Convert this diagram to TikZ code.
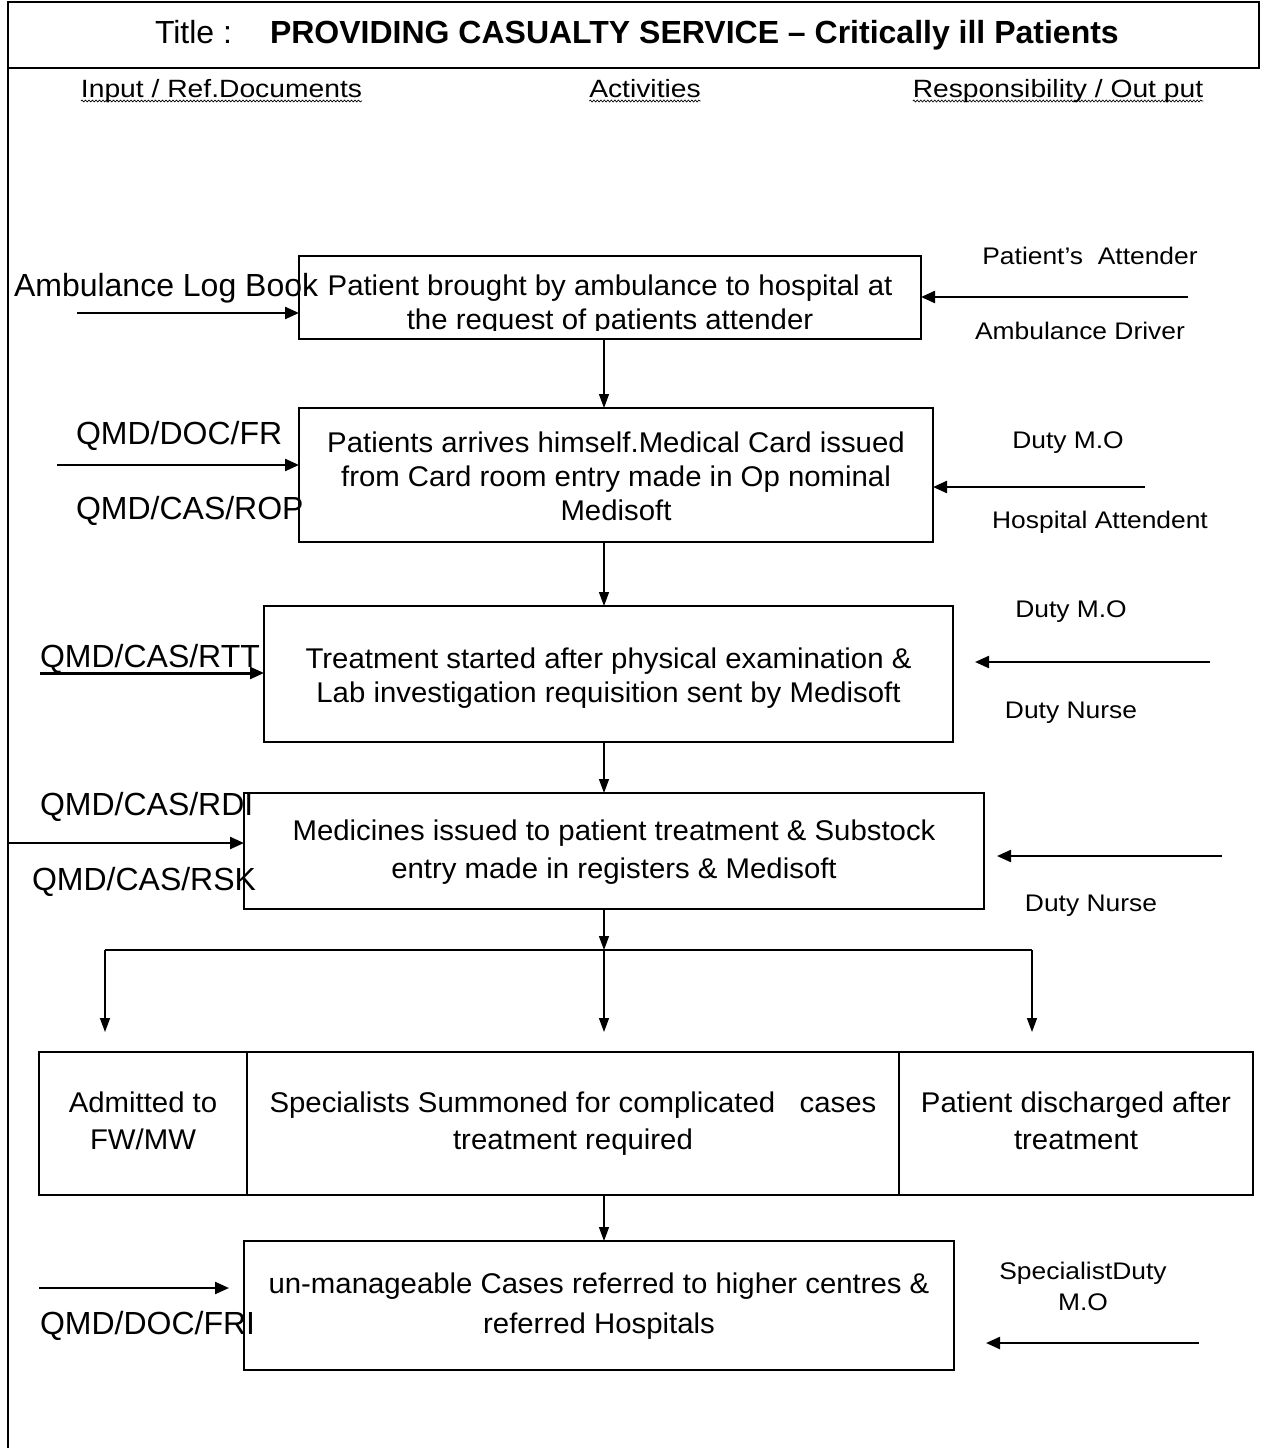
\documentclass[tikz,border=0pt]{standalone}
\usepackage{fontspec}
\setmainfont{Liberation Sans}
\newfontfamily\lblfont[FakeStretch=1.1]{Liberation Sans}
\newfontfamily\hdrfont[FakeStretch=1.13]{Liberation Sans}
\newfontfamily\boxfont[FakeStretch=1.03]{Liberation Sans}
\usetikzlibrary{arrows.meta,decorations.pathmorphing}

\begin{document}
\begin{tikzpicture}[x=1pt,y=-1pt,
  every node/.style={inner sep=0pt, outer sep=0pt},
  frame/.style={line width=1.5pt},
  box/.style={draw, line width=1.5pt, align=center},
  btext/.style={align=center, font=\boxfont\fontsize{28.5}{34}\selectfont},
  harr/.style={line width=2.3pt, -{Triangle[length=14pt,width=12pt]}},
  varr/.style={line width=1.4pt, -{Triangle[length=14pt,width=10pt]}},
  llab/.style={font=\fontsize{32}{36}\selectfont, anchor=base west},
  rlab/.style={font=\lblfont\fontsize{24}{28}\selectfont, anchor=base},
  hdr/.style={font=\hdrfont\fontsize{25}{29}\selectfont, anchor=base},
  squiggle/.style={line width=0.7pt, decorate, decoration={snake, amplitude=0.9pt, segment length=3.5pt}},
]
\useasboundingbox (0,0) rectangle (1262,1448);

% frame
\draw[frame] (8,2) rectangle (1259,68);
\draw[frame] (8,68) -- (8,1448);

% title
\node[anchor=base west, font=\fontsize{32}{36}\selectfont] (tl) at (155,43) {Title :};
\node[anchor=base west, font=\bfseries\fontsize{32}{36}\selectfont] (tt) at (270,43) {PROVIDING CASUALTY SERVICE – Critically ill Patients};

% headers
\node[hdr] (h1) at (221.5,97) {Input / Ref.Documents};
\node[hdr] (h2) at (645,97) {Activities};
\node[hdr] (h3) at (1058,97) {Responsibility / Out put};
\foreach \h in {h1,h2,h3}
  \draw[squiggle] ([yshift=-4pt]\h.base west) -- ([yshift=-4pt]\h.base east);

% box 1
\node[box, minimum width=622, minimum height=83] (b1) at (610,297.5) {};
\begin{scope}
  \clip (b1.north west) rectangle ([yshift=9pt]b1.south east);
  \node[btext] (t1) at (610,305.5) {Patient brought by ambulance to hospital at\\the request of patients attender};
\end{scope}

% box 2
\node[box, minimum width=634, minimum height=134] (b2) at (616,475) {};
\node[btext] (t2) at (616,476)
  {Patients arrives himself.Medical Card issued\\from Card room entry made in Op nominal\\Medisoft};

% box 3
\node[box, minimum width=689, minimum height=136] (b3) at (608.5,674) {};
\node[btext] (t3) at (608.5,678)
  {Treatment started after physical examination \&\\Lab investigation requisition sent by Medisoft};

% box 4
\node[box, minimum width=740, minimum height=116] (b4) at (614,851) {};
\node[btext, font=\boxfont\fontsize{28.5}{38}\selectfont] (t4) at (614,852)
  {Medicines issued to patient treatment \& Substock\\entry made in registers \& Medisoft};

% row of three
\node[box, btext, font=\boxfont\fontsize{28.5}{37}\selectfont, minimum width=208, minimum height=143] (c1) at (143,1123.5)
  {Admitted to\\FW/MW\vphantom{q}};
\node[box, btext, font=\boxfont\fontsize{28.5}{37}\selectfont, minimum width=652, minimum height=143] (c2) at (573,1123.5)
  {Specialists Summoned for complicated~~~cases\\treatment required};
\node[box, btext, font=\boxfont\fontsize{28.5}{37}\selectfont, minimum width=354, minimum height=143] (c3) at (1076,1123.5)
  {Patient discharged after\\treatment\vphantom{q}};

% box 6
\node[box, minimum width=710, minimum height=129] (b6) at (599,1305.5) {};
\node[btext, font=\boxfont\fontsize{28.5}{40}\selectfont] (t6) at (599,1306.5)
  {un-manageable Cases referred to higher centres \&\\referred Hospitals};

% left labels
\node[llab] (a1) at (14,296) {Ambulance Log Book};
\node[llab] (a2) at (76,444.5) {QMD/DOC/FR};
\node[llab] (a3) at (76,519.5) {QMD/CAS/ROP};
\node[llab] (a4) at (40,667) {\underline{QMD/CAS/RTT}};
\node[llab] (a5) at (40,815.5) {QMD/CAS/RDI};
\node[llab] (a6) at (32,890.5) {QMD/CAS/RSK};
\node[llab] (a7) at (40,1334.5) {QMD/DOC/FRI};

% right labels
\node[rlab] (p1) at (1090,264.5) {Patient’s~~Attender};
\node[rlab] (p2) at (1080,339.5) {Ambulance Driver};
\node[rlab] (p3) at (1068,448.5) {Duty M.O};
\node[rlab] (p4) at (1100,528.5) {Hospital Attendent};
\node[rlab] (p5) at (1071,617.5) {Duty M.O};
\node[rlab] (p6) at (1071,718.5) {Duty Nurse};
\node[rlab] (p7) at (1091,911.5) {Duty Nurse};
\node[rlab] (p8) at (1083,1279.5) {SpecialistDuty};
\node[rlab] (p9) at (1083,1310.5) {M.O};

% coordinates for free ends
\coordinate (vx) at (604,0);
\coordinate (l1) at (77,313);
\coordinate (l2) at (57,465);
\coordinate (l3) at (40,673);
\coordinate (l4) at (8,843);
\coordinate (l6) at (39,1288);
\coordinate (r1) at (1188,297);
\coordinate (r2) at (1145,487);
\coordinate (r3) at (1210,662);
\coordinate (r4) at (1222,856);
\coordinate (r6) at (1199,1343);
\coordinate (j) at (604,950);
\coordinate (jl) at (105,950);
\coordinate (jr) at (1032,950);
\coordinate (dl) at (105,1032);
\coordinate (dm) at (604,1032);
\coordinate (dr) at (1032,1032);

% left arrows
\draw[harr] (l1) -- (l1 -| b1.west);
\draw[harr] (l2) -- (l2 -| b2.west);
\draw[harr] (l3) -- (l3 -| b3.west);
\draw[harr] (l4) -- (l4 -| b4.west);
\draw[harr, shorten >=15pt] (l6) -- (l6 -| b6.west);

% right arrows
\draw[harr] (r1) -- (r1 -| b1.east);
\draw[harr] (r2) -- (r2 -| b2.east);
\draw[harr, shorten >=22pt] (r3) -- (r3 -| b3.east);
\draw[harr, shorten >=13pt] (r4) -- (r4 -| b4.east);
\draw[harr, shorten >=32pt] (r6) -- (r6 -| b6.east);

% vertical flow
\draw[varr] (b1.south -| vx) -- (b2.north -| vx);
\draw[varr] (b2.south -| vx) -- (b3.north -| vx);
\draw[varr] (b3.south -| vx) -- (b4.north -| vx);
\draw[varr] (b4.south -| vx) -- (j);
\draw[line width=1.4pt] (jl) -- (jr);
\draw[varr] (jl) -- (dl);
\draw[varr] (j) -- (dm);
\draw[varr] (jr) -- (dr);
\draw[varr] (c2.south -| vx) -- (b6.north -| vx);
\end{tikzpicture}
\end{document}
